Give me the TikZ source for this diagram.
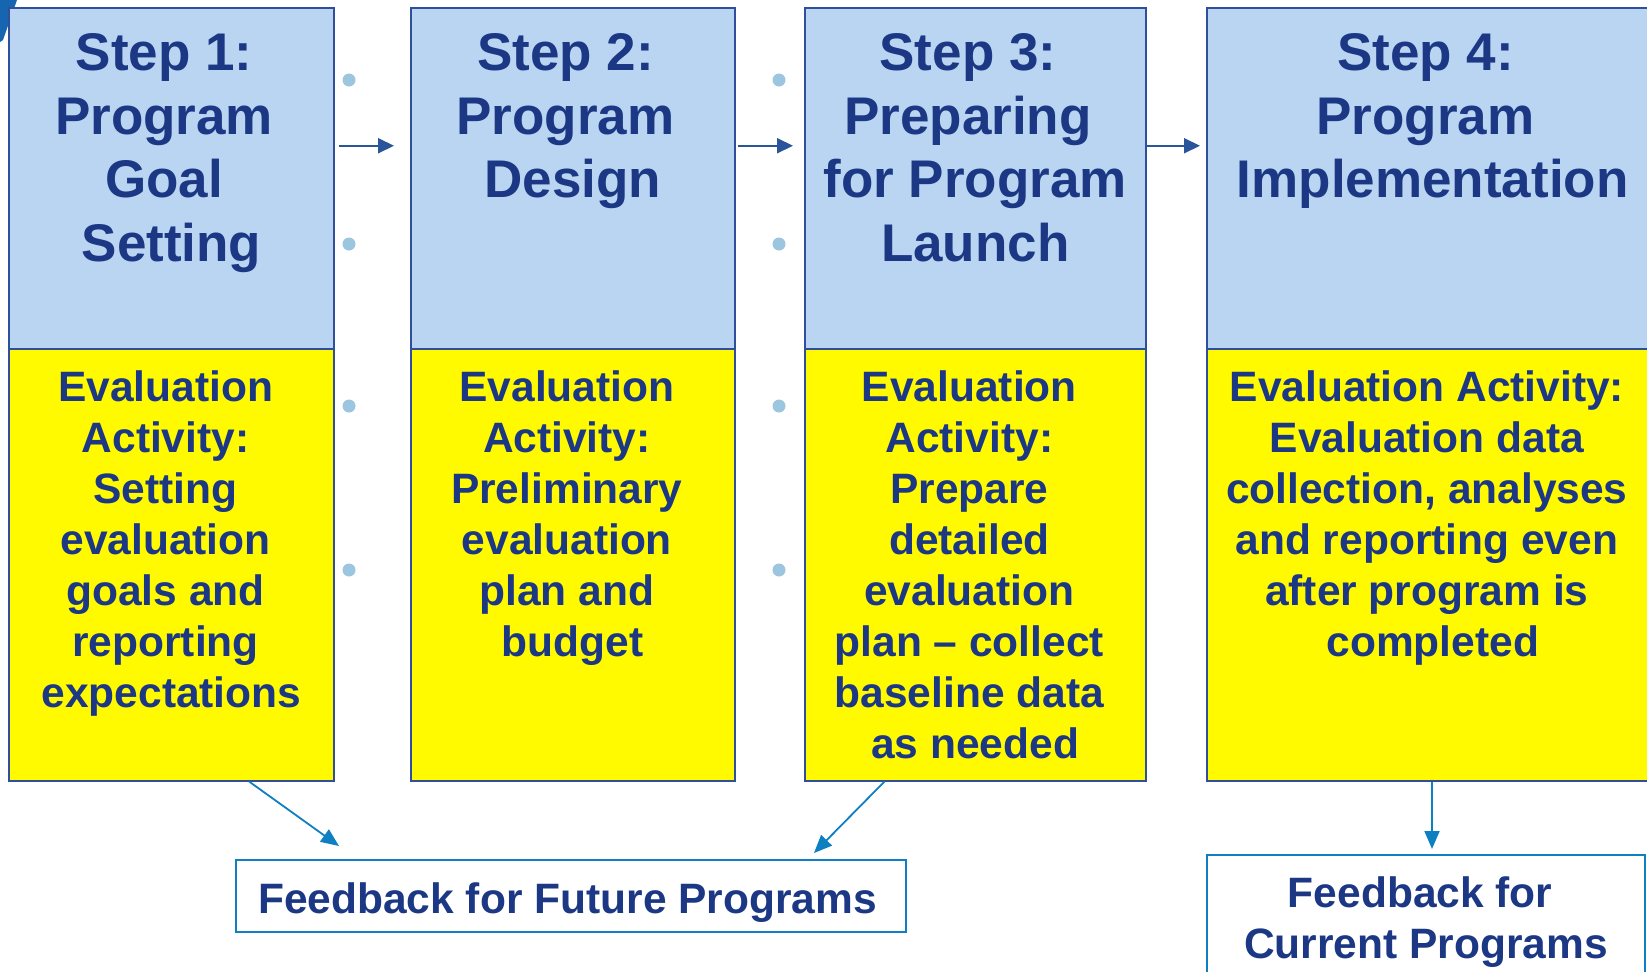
\documentclass[tikz,border=0pt]{standalone}
\usepackage{fontspec}
\setmainfont{Liberation Sans}
\usetikzlibrary{arrows.meta,calc}
\definecolor{navy}{HTML}{1C3885}
\definecolor{stepblue}{HTML}{BAD5F2}
\definecolor{stepedge}{HTML}{2F4F9C}
\definecolor{flowblue}{HTML}{2A559A}
\definecolor{evalyellow}{HTML}{FFFA00}
\definecolor{feedblue}{HTML}{0E80C2}
\definecolor{dotblue}{HTML}{9CC5E0}
\definecolor{cornerblue}{HTML}{1565B0}
% wrapped lines keep their trailing word space
\newcommand\wrapsp{\kern.278em}
\tikzset{
  stepbox/.style={draw=stepedge, line width=1.5pt, fill=stepblue, anchor=north west, inner sep=0pt},
  evalbox/.style={draw=stepedge, line width=1.5pt, fill=evalyellow, anchor=north west, inner sep=0pt},
  steptext/.style={text=navy, font=\bfseries\fontsize{53}{63.5}\selectfont, align=center, inner sep=0pt, anchor=north},
  evaltext/.style={text=navy, font=\bfseries\fontsize{42.5}{51}\selectfont, align=center, inner sep=0pt, anchor=north},
  feedbox/.style={draw=feedblue, line width=2pt, fill=white, inner sep=0pt},
  feedtext/.style={text=navy, font=\bfseries\fontsize{42.5}{51}\selectfont, align=center, inner sep=0pt},
  flow/.style={draw=flowblue, line width=2pt, -{Triangle[length=16pt,width=15pt]}},
  feed/.style={draw=feedblue, line width=1.8pt, -{Triangle[length=18pt,width=15pt]}},
  dot/.style={circle, fill=dotblue, minimum size=13pt, inner sep=0pt}
}
\begin{document}
\begin{tikzpicture}[x=1pt,y=-1pt]
\useasboundingbox (0,0) rectangle (1647,972);
\fill[white] (0,0) rectangle (1647,972);
\clip (0,0) rectangle (1647,972);

% corner ornament
\fill[cornerblue] (0,0) -- (17,0) -- (3,40) -- (0,42) -- cycle;

% step headers
\node[stepbox, minimum width=324.6pt, minimum height=340.6pt] (t1) at (8.4,7.4) {};
\node[stepbox, minimum width=324pt, minimum height=340.6pt] (t2) at (410,7.4) {};
\node[stepbox, minimum width=341pt, minimum height=340.6pt] (t3) at (804,7.4) {};
\node[stepbox, minimum width=452pt, minimum height=340.6pt] (t4) at (1206,7.4) {};

% evaluation activities
\node[evalbox, minimum width=324.6pt, minimum height=432pt] (e1) at (8.4,348) {};
\node[evalbox, minimum width=324pt, minimum height=432pt] (e2) at (410,348) {};
\node[evalbox, minimum width=341pt, minimum height=432pt] (e3) at (804,348) {};
\node[evalbox, minimum width=452pt, minimum height=432pt] (e4) at (1206,348) {};

% header texts
\node[steptext] (s1) at ([yshift=-26pt]t1.north) {Step 1:\wrapsp\\Program\wrapsp\\Goal\wrapsp\\Setting};
\node[steptext] (s2) at ([yshift=-26pt]t2.north) {Step 2:\wrapsp\\Program\wrapsp\\Design};
\node[steptext] (s3) at ([yshift=-26pt]t3.north) {Step 3:\wrapsp\\Preparing\wrapsp\\for Program\\Launch};
\node[steptext] (s4) at ([yshift=-26pt]t4.north) {Step 4:\wrapsp\\Program\wrapsp\\Implementation};

% activity texts
\node[evaltext] (a1) at ([yshift=-22.5pt]e1.north) {Evaluation\wrapsp\\Activity:\wrapsp\\Setting\wrapsp\\evaluation\wrapsp\\goals and\wrapsp\\reporting\wrapsp\\expectations};
\node[evaltext] (a2) at ([yshift=-22.5pt]e2.north) {Evaluation\wrapsp\\Activity:\wrapsp\\Preliminary\wrapsp\\evaluation\wrapsp\\plan and\wrapsp\\budget};
\node[evaltext] (a3) at ([yshift=-22.5pt]e3.north) {Evaluation\wrapsp\\Activity:\wrapsp\\Prepare\wrapsp\\detailed\wrapsp\\evaluation\wrapsp\\plan -- collect\wrapsp\\baseline data\wrapsp\\as needed};
\node[evaltext] (a4) at ([yshift=-22.5pt]e4.north) {Evaluation Activity:\wrapsp\\Evaluation data\wrapsp\\collection, analyses\wrapsp\\and reporting even\wrapsp\\after program is\wrapsp\\completed};

% dotted separators
\foreach \x/\c in {349/p,779/q}{
  \foreach \y/\r in {80/1,244/2,406/3,570/4}{
    \node[dot] (\c\r) at (\x,\y) {};
  }
}

% flow between steps
\draw[flow] ([xshift=4pt,yshift=32.7pt]t1.east) -- ([xshift=-16pt,yshift=32.7pt]t2.west);
\draw[flow] ([xshift=2pt,yshift=32.7pt]t2.east) -- ([xshift=-11pt,yshift=32.7pt]t3.west);
\draw[flow] ([xshift=-2pt,yshift=32.7pt]t3.east) -- ([xshift=-6pt,yshift=32.7pt]t4.west);

% feedback boxes
\node[feedbox, minimum width=670pt, minimum height=72pt] (ff) at (571,896) {};
\node[feedtext] (fft) at ([xshift=-3.5pt,yshift=-6.3pt]ff.center) {Feedback for Future Programs};
\node[feedbox, minimum width=438pt, minimum height=140pt, anchor=north west] (fc) at (1206,854) {};
\node[feedtext, anchor=north] (fct) at ([yshift=-22pt]fc.north) {Feedback for\wrapsp\\Current Programs};

% feedback connectors
\coordinate (ffa) at (339,846);
\coordinate (ffb) at (814,853);
\coordinate (fca) at (1432,849);
\draw[feed] ($(e1.south west)!0.738!(e1.south east)$) -- (ffa);
\draw[feed] ($(e3.south west)!0.235!(e3.south east)$) -- (ffb);
\draw[feed] (e4.south -| fca) -- (fca);
\end{tikzpicture}
\end{document}
